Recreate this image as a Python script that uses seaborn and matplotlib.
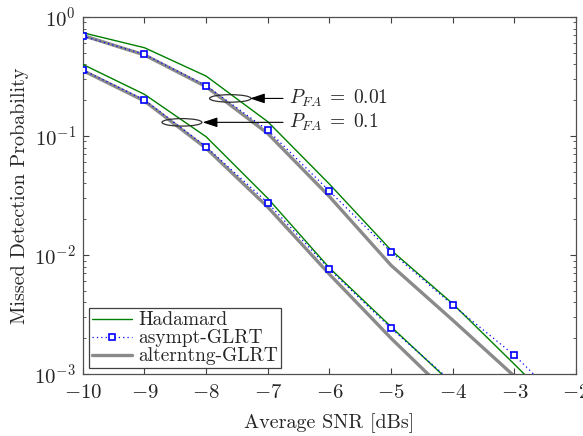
import matplotlib
matplotlib.use('Agg')
import matplotlib.pyplot as plt
from matplotlib.patches import Ellipse
import seaborn as sns
import pandas as pd

# SNR grid [dB]
snr_hi = [-10, -9, -8, -7, -6, -5, -4, -3, -2]   # P_FA = 0.01 curves
snr_lo = [-10, -9, -8, -7, -6, -5, -4]           # P_FA = 0.1 curves

# P_FA = 0.01
hadamard_001 = [0.738, 0.552, 0.319, 0.132, 0.0395, 0.0110, 0.0039, 0.00121, 0.00037]
asympt_001 = [0.69, 0.486, 0.265, 0.112, 0.0345, 0.0106, 0.0038, 0.00144, 0.00045]
altern_001 = [0.70, 0.48, 0.26, 0.105, 0.031, 0.0082, 0.00284, 0.00096, 0.00032]

# P_FA = 0.1
hadamard_01 = [0.40, 0.224, 0.0987, 0.030, 0.0078, 0.0025, 0.00082]
asympt_01 = [0.359, 0.201, 0.0813, 0.0275, 0.0076, 0.00242, 0.00085]
altern_01 = [0.355, 0.197, 0.079, 0.0253, 0.0069, 0.0020, 0.00063]

sns.set_style('ticks')
plt.rcParams['font.family'] = 'serif'
plt.rcParams['font.serif'] = ['cmr10', 'DejaVu Serif']
plt.rcParams['mathtext.fontset'] = 'cm'
plt.rcParams['axes.formatter.use_mathtext'] = True
plt.rcParams['axes.unicode_minus'] = False

fig = plt.figure(figsize=(5.83, 4.36), dpi=100)
ax = fig.add_axes([0.142, 0.142, 0.846, 0.819])

green = '#008000'
gray = '#8a8a8a'
blue = '#0000ff'

for x, alt, had, asy, first in [(snr_hi, altern_001, hadamard_001, asympt_001, True),
                                (snr_lo, altern_01, hadamard_01, asympt_01, False)]:
    df = pd.DataFrame({'snr': x, 'alt': alt, 'had': had, 'asy': asy})
    sns.lineplot(data=df, x='snr', y='alt', ax=ax, color=gray, linewidth=2.4,
                 label='alterntng-GLRT' if first else None, zorder=2)
    sns.lineplot(data=df, x='snr', y='had', ax=ax, color=green, linewidth=1.0,
                 label='Hadamard' if first else None, zorder=3)
    sns.lineplot(data=df, x='snr', y='asy', ax=ax, color=blue, linewidth=0.9,
                 linestyle=(0, (1, 2.5)), marker='s', markersize=4.3,
                 markerfacecolor='white', markeredgecolor=blue, markeredgewidth=1.2,
                 label='asympt-GLRT' if first else None, zorder=4)

ax.set_yscale('log')
ax.set_xlim(-10, -2)
ax.set_ylim(1e-3, 1)
ax.set_xticks(range(-10, -1))
ax.set_xlabel('Average SNR [dBs]', fontsize=14.5, labelpad=8)
ax.set_ylabel('Missed Detection Probability', fontsize=14.5, labelpad=4)
ax.tick_params(which='both', direction='in', top=True, right=True, labelsize=15,
               color='#404040')
ax.tick_params(axis='x', pad=7)
ax.tick_params(axis='y', pad=5)
ax.tick_params(which='major', length=4)
ax.tick_params(which='minor', length=2.5)
for s in ax.spines.values():
    s.set_color('#505050')
    s.set_linewidth(0.9)

# ellipses marking the curve groups + arrows
ax.add_patch(Ellipse((0.299, 0.772), 0.084, 0.021, transform=ax.transAxes,
                     fill=False, edgecolor='#303030', linewidth=0.9, zorder=5))
ax.add_patch(Ellipse((0.201, 0.705), 0.081, 0.021, transform=ax.transAxes,
                     fill=False, edgecolor='#303030', linewidth=0.9, zorder=5))
arrow = dict(arrowstyle='-|>,head_length=0.9,head_width=0.3', color='black', linewidth=0.8,
             shrinkA=0, shrinkB=0)
ax.annotate('', xy=(0.339, 0.772), xytext=(0.406, 0.772), xycoords='axes fraction',
            arrowprops=arrow, zorder=6)
ax.annotate('', xy=(0.243, 0.705), xytext=(0.406, 0.705), xycoords='axes fraction',
            arrowprops=arrow, zorder=6)
ax.text(0.418, 0.772, r'$P_{FA}\;=\;0.01$', transform=ax.transAxes, fontsize=14,
        va='center', ha='left')
ax.text(0.418, 0.705, r'$P_{FA}\;=\;0.1$', transform=ax.transAxes, fontsize=14,
        va='center', ha='left')

handles, labels = ax.get_legend_handles_labels()
order = [labels.index(l) for l in ['Hadamard', 'asympt-GLRT', 'alterntng-GLRT']]
leg = ax.legend([handles[i] for i in order], [labels[i] for i in order],
                loc='lower left', fontsize=14, fancybox=False, framealpha=1,
                edgecolor='#404040', borderpad=0.15, labelspacing=0.0,
                handlelength=2.1, handletextpad=0.3, borderaxespad=0.3)
leg.get_frame().set_linewidth(0.9)

plt.savefig('out.png', dpi=100)
plt.close()
